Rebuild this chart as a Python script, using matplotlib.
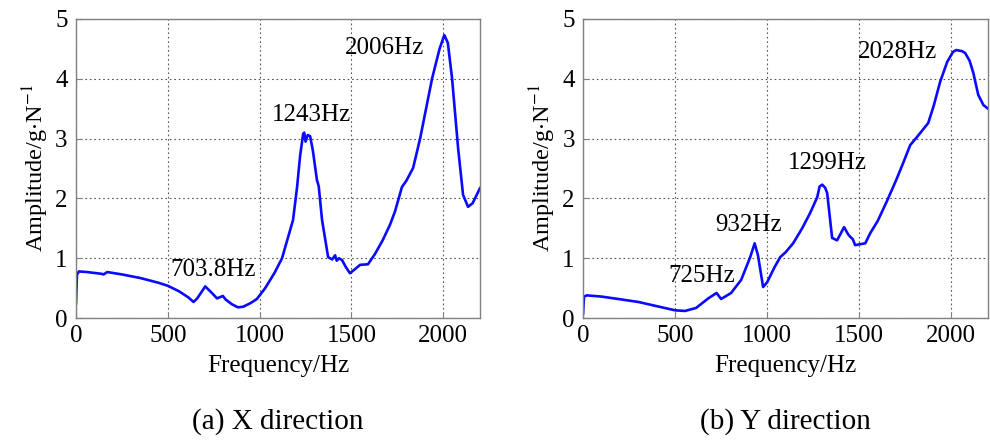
import matplotlib
matplotlib.use("Agg")
import matplotlib.pyplot as plt

# Frequency response, X direction
freq_x = [0, 5, 15, 60, 140, 150, 170, 250, 350, 450, 500, 560, 610, 640, 660,
          703.8, 740, 768, 800, 815, 850, 882, 910, 950, 985, 1030, 1080, 1122,
          1150, 1182, 1204, 1220, 1237, 1243, 1250, 1262, 1275, 1290, 1312, 1322,
          1340, 1373, 1395, 1411, 1420, 1432, 1449, 1470, 1492, 1520, 1547, 1590,
          1628, 1670, 1710, 1737, 1775, 1800, 1836, 1874, 1939, 1980, 2006, 2025,
          2048, 2081, 2108, 2135, 2160, 2200]
amp_x = [0.25, 0.72, 0.78, 0.77, 0.74, 0.73, 0.77, 0.73, 0.67, 0.59, 0.54, 0.45,
         0.35, 0.27, 0.33, 0.53, 0.42, 0.33, 0.37, 0.31, 0.23, 0.18, 0.19, 0.25,
         0.32, 0.50, 0.75, 1.00, 1.30, 1.64, 2.19, 2.70, 3.08, 3.10, 2.95, 3.06,
         3.04, 2.80, 2.31, 2.20, 1.64, 1.02, 0.98, 1.05, 0.96, 1.00, 0.97, 0.85,
         0.75, 0.82, 0.89, 0.90, 1.07, 1.30, 1.56, 1.78, 2.19, 2.30, 2.51, 3.00,
         4.00, 4.50, 4.73, 4.60, 4.01, 2.84, 2.06, 1.86, 1.92, 2.17]

# Frequency response, Y direction
freq_y = [0, 5, 20, 100, 190, 300, 400, 500, 554, 614, 680, 725, 750, 804, 859,
          908, 932, 950, 978, 1000, 1040, 1071, 1100, 1141, 1190, 1234, 1272, 1285,
          1299, 1315, 1326, 1353, 1380, 1418, 1440, 1451, 1465, 1478, 1533, 1560,
          1600, 1650, 1700, 1740, 1777, 1815, 1875, 1905, 1940, 1978, 2010, 2028,
          2060, 2076, 2100, 2120, 2147, 2175, 2200]
amp_y = [0.08, 0.36, 0.38, 0.36, 0.32, 0.27, 0.20, 0.13, 0.12, 0.17, 0.33, 0.42,
         0.32, 0.42, 0.64, 1.02, 1.25, 1.05, 0.52, 0.60, 0.85, 1.02, 1.10, 1.25,
         1.50, 1.76, 2.02, 2.20, 2.23, 2.18, 2.09, 1.34, 1.30, 1.52, 1.40, 1.36,
         1.32, 1.22, 1.25, 1.42, 1.62, 1.95, 2.30, 2.60, 2.89, 3.03, 3.26, 3.55,
         3.95, 4.28, 4.45, 4.48, 4.46, 4.43, 4.30, 4.10, 3.73, 3.56, 3.50]

peaks_x = ["703.8Hz", "1243Hz", "2006Hz"]
peaks_y = ["725Hz", "932Hz", "1299Hz", "2028Hz"]
captions = ["(a) X direction", "(b) Y direction"]

# label anchor points (data coords)
label_pos_x = [(749, 0.80), (1285, 3.39), (1678, 4.52)]
label_pos_y = [(643, 0.70), (901, 1.56), (1329, 2.59), (1706, 4.45)]

plt.rcParams["font.family"] = ["Liberation Serif", "DejaVu Serif"]
plt.rcParams["mathtext.fontset"] = "stix"

fig = plt.figure(figsize=(9.9, 4.4), dpi=100)
ax_a = fig.add_axes([0.0768, 0.277, 0.408, 0.680])
ax_b = fig.add_axes([0.589, 0.277, 0.409, 0.680])

panels = [
    (ax_a, freq_x, amp_x, peaks_x, label_pos_x, captions[0]),
    (ax_b, freq_y, amp_y, peaks_y, label_pos_y, captions[1]),
]

for ax, f, a, labels, pos, caption in panels:
    ax.plot(f, a, color="#0a0aff", linewidth=1.9, solid_joinstyle="round")
    ax.set_xlim(0, 2200)
    ax.set_ylim(0, 5)
    ax.set_xticks([0, 500, 1000, 1500, 2000])
    ax.set_yticks([0, 1, 2, 3, 4, 5])
    ax.grid(True, color="#555555", linestyle=(0, (1.5, 2.5)), linewidth=0.8)
    ax.set_axisbelow(True)
    for spine in ax.spines.values():
        spine.set_color("#808080")
        spine.set_linewidth(1.0)
    ax.tick_params(direction="in", length=4, color="#808080", labelsize=18)
    ax.tick_params(axis="x", pad=5)
    ax.tick_params(axis="y", pad=6)
    ax.set_xlabel("Frequency/Hz", fontsize=18, labelpad=6)
    ax.set_ylabel(r"Amplitude/g$\cdot$N$^{-1}$", fontsize=17.5, labelpad=3)
    for text, (px, py) in zip(labels, pos):
        ax.text(px, py, text, fontsize=18, ha="center", va="center")
    ax.text(0.5, -0.345, caption, transform=ax.transAxes, fontsize=21,
            ha="center", va="center")

fig.savefig("out.png", dpi=100, facecolor="white")
